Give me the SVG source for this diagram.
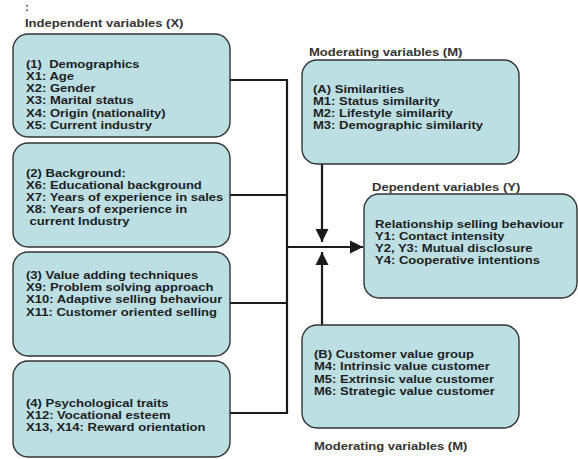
<svg xmlns="http://www.w3.org/2000/svg" width="578" height="459" viewBox="0 0 578 459">
<defs>
<style>
.box{fill:#bcdfe3;stroke:#333;stroke-width:1.4}
text{font-family:"Liberation Sans",Arial,sans-serif;font-weight:bold;font-size:11px;fill:#1e1e1e}
.lbl{fill:#333}
.con{fill:none;stroke:#1a1a1a;stroke-width:2.2}
</style>
<marker id="ah" viewBox="0 0 10 10" refX="10" refY="5" markerWidth="6" markerHeight="6" markerUnits="strokeWidth" orient="auto">
<path d="M0,0 L10,5 L0,10 Z" fill="#1a1a1a"/>
</marker>
</defs>
<rect width="578" height="459" fill="#fff"/>
<text class="lbl" x="25" y="11">:</text>
<g transform="translate(25,0) scale(1.185,1)"><text class="lbl" x="0" y="27">Independent variables (X)</text></g>
<g transform="translate(309,0) scale(1.185,1)"><text class="lbl" x="0" y="56">Moderating variables (M)</text></g>
<g transform="translate(372,0) scale(1.185,1)"><text class="lbl" x="0" y="191">Dependent variables (Y)</text></g>
<g transform="translate(314,0) scale(1.185,1)"><text class="lbl" x="0" y="450">Moderating variables (M)</text></g>
<g id="connectors">
<path class="con" d="M230,80 H287 M230,195 H287 M230,303 H287 M230,413 H287 M287,79 V414"/>
<path class="con" d="M287,247 H363" marker-end="url(#ah)"/>
<path class="con" d="M322,164 V242" marker-end="url(#ah)"/>
<path class="con" d="M322,325 V252" marker-end="url(#ah)"/>
</g>
<g id="x1">
<rect class="box" x="13" y="34" width="217" height="103" rx="15"/>
<g transform="translate(26,0) scale(1.185,1)">
<text x="0" y="68" xml:space="preserve">(1)  Demographics</text>
<text x="0" y="80.5">X1: Age</text>
<text x="0" y="92.5">X2: Gender</text>
<text x="0" y="104.5">X3: Marital status</text>
<text x="0" y="117">X4: Origin (nationality)</text>
<text x="0" y="129">X5: Current industry</text>
</g>
</g>
<g id="x2">
<rect class="box" x="13" y="143" width="217" height="104" rx="15"/>
<g transform="translate(26,0) scale(1.185,1)">
<text x="0" y="177">(2) Background:</text>
<text x="0" y="189">X6: Educational background</text>
<text x="0" y="201">X7: Years of experience in sales</text>
<text x="0" y="213">X8: Years of experience in</text>
<text x="0" y="225" xml:space="preserve"> current Industry</text>
</g>
</g>
<g id="x3">
<rect class="box" x="13" y="252" width="217" height="104" rx="15"/>
<g transform="translate(26,0) scale(1.185,1)">
<text x="0" y="279">(3) Value adding techniques</text>
<text x="0" y="291.5">X9: Problem solving approach</text>
<text x="0" y="303.5">X10: Adaptive selling behaviour</text>
<text x="0" y="316">X11: Customer oriented selling</text>
</g>
</g>
<g id="x4">
<rect class="box" x="13" y="361" width="217" height="96" rx="15"/>
<g transform="translate(26,0) scale(1.185,1)">
<text x="0" y="407">(4) Psychological traits</text>
<text x="0" y="419">X12: Vocational esteem</text>
<text x="0" y="431.5">X13, X14: Reward orientation</text>
</g>
</g>
<g id="mA">
<rect class="box" x="302" y="60" width="217" height="104" rx="15"/>
<g transform="translate(313,0) scale(1.185,1)">
<text x="0" y="93">(A) Similarities</text>
<text x="0" y="105">M1: Status similarity</text>
<text x="0" y="117">M2: Lifestyle similarity</text>
<text x="0" y="129">M3: Demographic similarity</text>
</g>
</g>
<g id="y">
<rect class="box" x="364" y="194" width="213" height="104" rx="15"/>
<g transform="translate(375,0) scale(1.185,1)">
<text x="0" y="228">Relationship selling behaviour</text>
<text x="0" y="240.5">Y1: Contact intensity</text>
<text x="0" y="252">Y2, Y3: Mutual disclosure</text>
<text x="0" y="264">Y4: Cooperative intentions</text>
</g>
</g>
<g id="mB">
<rect class="box" x="302" y="325" width="217" height="103" rx="15"/>
<g transform="translate(314,0) scale(1.185,1)">
<text x="0" y="358">(B) Customer value group</text>
<text x="0" y="370">M4: Intrinsic value customer</text>
<text x="0" y="383">M5: Extrinsic value customer</text>
<text x="0" y="395">M6: Strategic value customer</text>
</g>
</g>
</svg>
